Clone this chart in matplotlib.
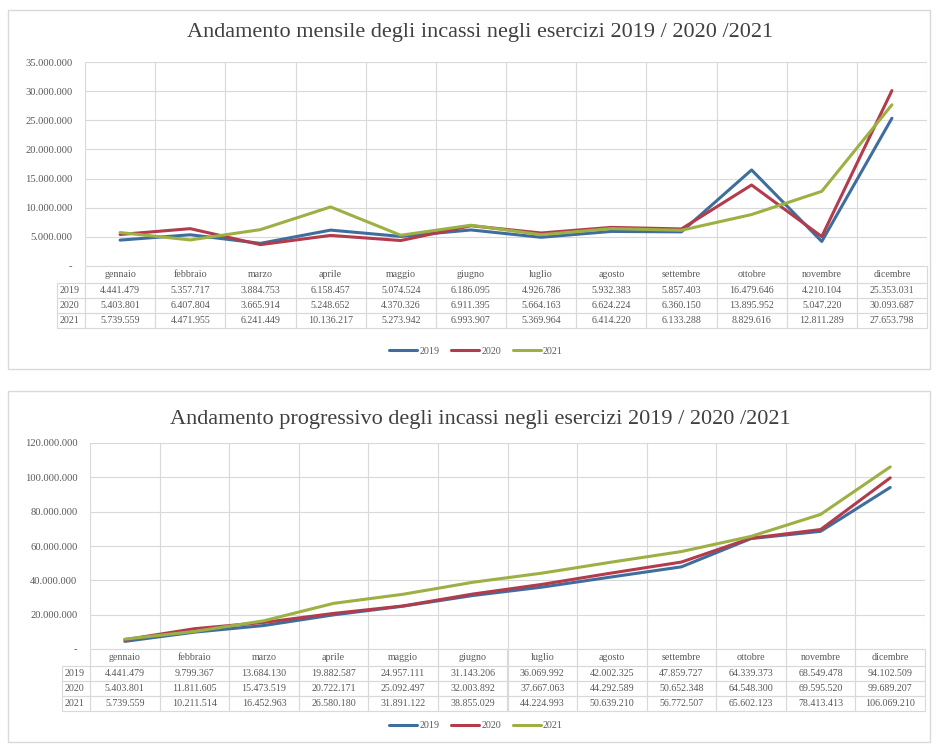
import matplotlib
matplotlib.use("Agg")
import matplotlib.pyplot as plt
from matplotlib.table import Table
from matplotlib.patches import Rectangle
from matplotlib.ticker import FuncFormatter, MultipleLocator

months = ["gennaio", "febbraio", "marzo", "aprile", "maggio", "giugno",
          "luglio", "agosto", "settembre", "ottobre", "novembre", "dicembre"]
years = ["2019", "2020", "2021"]

monthly_2019 = [4441479, 5357717, 3884753, 6158457, 5074524, 6186095,
                4926786, 5932383, 5857403, 16479646, 4210104, 25353031]
monthly_2020 = [5403801, 6407804, 3665914, 5248652, 4370326, 6911395,
                5664163, 6624224, 6360150, 13895952, 5047220, 30093687]
monthly_2021 = [5739559, 4471955, 6241449, 10136217, 5273942, 6993907,
                5369964, 6414220, 6133288, 8829616, 12811289, 27653798]

progressive_2019 = [4441479, 9799367, 13684130, 19882587, 24957111, 31143206,
                    36069992, 42002325, 47859727, 64339373, 68549478, 94102509]
progressive_2020 = [5403801, 11811605, 15473519, 20722171, 25092497, 32003892,
                    37667063, 44292589, 50652348, 64548300, 69595520, 99689207]
progressive_2021 = [5739559, 10211514, 16452963, 26580180, 31891122, 38855029,
                    44224993, 50639210, 56772507, 65602123, 78413413, 106069210]

title_top = "Andamento mensile degli incassi negli esercizi 2019 / 2020 /2021"
title_bottom = "Andamento progressivo degli incassi negli esercizi 2019 / 2020 /2021"

colors = ["#3F6E9E", "#B23B4C", "#9CB043"]
grid_c = "#D9D9D9"
text_c = "#595959"
SERIF = ["Liberation Serif", "DejaVu Serif"]

W, H = 933, 744
fig = plt.figure(figsize=(W / 100, H / 100), dpi=100)


def fx(px):
    return px / W


def fy(py):
    return 1 - py / H


def fmt(v):
    return f"{int(v):,}".replace(",", ".")


def tick_fmt(v, _):
    return "-" if v == 0 else fmt(v)


def panel(box, ax_box, title, title_y, series, ymax, ystep, legend_y):
    x0, y0, x1, y1 = box
    fig.patches.append(Rectangle((fx(x0), fy(y1)), fx(x1) - fx(x0), fy(y0) - fy(y1),
                                 transform=fig.transFigure, fill=False,
                                 edgecolor=grid_c, linewidth=1.0))
    fig.text(fx(480), fy(title_y), title, ha="center", va="center",
             fontsize=16, color="#404040", family=SERIF)
    l, t, r, b = ax_box
    ax = fig.add_axes([fx(l), fy(b), fx(r) - fx(l), fy(t) - fy(b)])
    xs = list(range(len(months)))
    lines = []
    for name, vals, c in zip(years, series, colors):
        ln, = ax.plot(xs, vals, color=c, linewidth=2.2, label=name,
                      solid_capstyle="round")
        lines.append(ln)
    ax.set_xlim(-0.5, len(months) - 0.5)
    ax.set_ylim(0, ymax)
    ax.yaxis.set_major_locator(MultipleLocator(ystep))
    ax.yaxis.set_major_formatter(FuncFormatter(tick_fmt))
    ax.set_xticks([])
    ax.set_xticks([i - 0.5 for i in range(len(months) + 1)], minor=True)
    ax.tick_params(axis="x", which="both", length=0, labelbottom=False)
    ax.tick_params(axis="y", length=0, labelsize=7.6, labelcolor=text_c, pad=9)
    for lab in ax.get_yticklabels():
        lab.set_family(SERIF)
    ax.grid(True, axis="y", which="major", color=grid_c, linewidth=0.8)
    ax.grid(True, axis="x", which="minor", color=grid_c, linewidth=0.8)
    ax.set_axisbelow(True)
    for s in ax.spines.values():
        s.set_visible(False)

    # data table below the plot area: column 0 = row labels, 1..12 = months
    axw = r - l
    axh = b - t
    rl = 28 / axw
    th = 62 / axh
    tb = Table(ax, bbox=[-rl, -th, 1 + rl, th])
    hh, rh = 1.1, 1.0
    n = len(months)
    for j, m in enumerate(months):
        tb.add_cell(0, j + 1, width=1, height=hh, text=m, loc="center",
                    edgecolor=grid_c, facecolor="none")
    for i, (name, vals) in enumerate(zip(years, series)):
        tb.add_cell(i + 1, 0, width=rl * n, height=rh, text=name,
                    loc="left", edgecolor=grid_c, facecolor="none")
        for j, v in enumerate(vals):
            tb.add_cell(i + 1, j + 1, width=1, height=rh, text=fmt(v), loc="center",
                        edgecolor=grid_c, facecolor="none")
    tb.auto_set_font_size(False)
    tb.set_fontsize(7.2)
    for (ri, ci), cell in tb.get_celld().items():
        cell.set_linewidth(0.8)
        cell.get_text().set_color(text_c)
        cell.get_text().set_family(SERIF)
        if ci == 0:
            cell.PAD = 0.08
    ax.add_table(tb)

    fig.legend(lines, years, loc="center", bbox_to_anchor=(fx(476), fy(legend_y)),
               ncol=3, frameon=False, handlelength=2.8, columnspacing=1.2,
               handletextpad=0.2, prop={"family": SERIF, "size": 7.2},
               labelcolor=text_c)
    return ax


panel((8, 10, 930, 369), (85, 62, 927, 266), title_top, 33,
      [monthly_2019, monthly_2020, monthly_2021], 35000000, 5000000, 351)
panel((8, 391, 930, 742), (90, 443, 925, 649), title_bottom, 419,
      [progressive_2019, progressive_2020, progressive_2021], 120000000, 20000000, 726)

fig.savefig("out.png", dpi=100)
